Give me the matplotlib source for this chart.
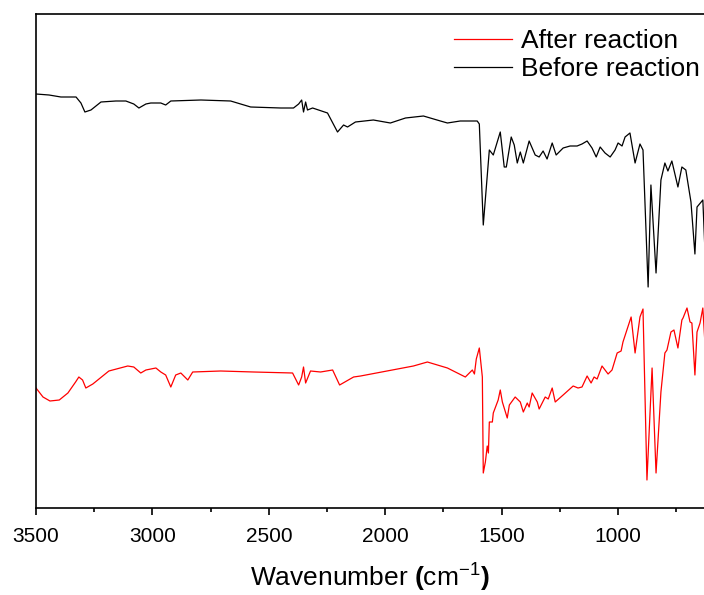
import matplotlib
matplotlib.use("Agg")
import matplotlib.pyplot as plt
from matplotlib.ticker import MultipleLocator

plt.rcParams["font.family"] = ["Liberation Sans", "DejaVu Sans"]
plt.rcParams["mathtext.fontset"] = "custom"
plt.rcParams["mathtext.rm"] = "Liberation Sans"
plt.rcParams["mathtext.bf"] = "Liberation Sans:bold"

# ─── data: FTIR spectra (wavenumber cm-1, transmittance a.u.) ──────────────
before_wn = [3500, 3444, 3393, 3328, 3307, 3290, 3264, 3221, 3157, 3114, 3080, 3058,
             3028, 3007, 2964, 2943, 2921, 2792, 2664, 2578, 2449, 2394, 2372, 2359,
             2351, 2342, 2334, 2312, 2248, 2205, 2179, 2162, 2128, 2051, 1978, 1913,
             1836, 1763, 1733, 1678, 1605, 1596, 1579, 1553, 1536, 1506, 1489, 1480,
             1459, 1446, 1433, 1420, 1407, 1382, 1356, 1339, 1322, 1305, 1283, 1266,
             1236, 1206, 1176, 1155, 1133, 1112, 1094, 1077, 1056, 1034, 1013, 1000,
             983, 970, 949, 927, 906, 893, 871, 859, 837, 816, 799, 786, 769, 743,
             726, 709, 687, 670, 661, 636, 627]
before_t = [414, 413, 411, 411, 405, 396, 398, 406, 407, 407, 404, 400,
            404, 405, 405, 403, 407, 408, 407, 401, 400, 400, 404, 408,
            396, 406, 398, 400, 395, 376, 383, 381, 386, 388, 385, 390,
            392, 387, 385, 387, 387, 384, 283, 358, 353, 376, 341, 341,
            371, 363, 345, 356, 345, 367, 353, 351, 357, 349, 365, 353,
            360, 362, 362, 364, 367, 360, 351, 361, 355, 351, 358, 365,
            362, 371, 375, 345, 364, 358, 221, 323, 235, 328, 345, 337, 347, 321,
            341, 338, 306, 254, 301, 308, 258]

after_wn = [3500, 3470, 3440, 3400, 3363, 3330, 3316, 3300, 3286, 3256, 3187, 3106,
            3080, 3050, 3028, 2985,
            2964, 2943, 2921, 2900, 2878, 2848, 2827, 2707, 2565, 2398, 2372, 2359,
            2351, 2342, 2321, 2278, 2226, 2196, 2136, 2106, 1879, 1819, 1733, 1656,
            1626, 1617, 1609, 1596, 1583, 1579, 1570, 1562, 1557, 1553, 1540, 1536,
            1515, 1506, 1497, 1476, 1467, 1442, 1420, 1407, 1390, 1382, 1369, 1347,
            1339, 1313, 1300, 1283, 1270, 1236, 1193, 1172, 1155, 1133, 1116, 1103,
            1090, 1069, 1043, 1026, 1004, 987, 979, 944, 927, 906, 893, 876, 854,
            837, 816, 799, 790, 773, 760, 743, 726, 721, 704, 691, 683, 670, 661,
            648, 636, 627]
after_t = [120, 111, 107, 108, 115, 126, 131, 128, 120, 124, 137, 142,
           141, 135, 138, 140,
           136, 133, 121, 133, 135, 128, 136, 137, 136, 135, 123, 131,
           141, 125, 137, 136, 138, 123, 131, 132, 142, 146, 140, 131,
           138, 134, 149, 160, 131, 35, 46, 62, 55, 86, 86, 95,
           108, 118, 106, 90, 103, 111, 106, 96, 105, 101, 115, 106,
           99, 111, 109, 120, 106, 113, 122, 120, 121, 132, 125, 131,
           129, 142, 134, 138, 155, 157, 166, 191, 155, 191, 199, 28, 140,
           35, 116, 155, 158, 176, 178, 160, 188, 190, 200, 186, 185, 133, 176,
           185, 200, 165]

fig = plt.figure(figsize=(7.04, 5.95), dpi=100)
ax = fig.add_axes([36 / 704, 1 - 508 / 595, 1 - 36 / 704, (508 - 14) / 595])

ax.plot(after_wn, after_t, color="#ff0000", lw=0.9, label="After reaction")
ax.plot(before_wn, before_t, color="#000000", lw=0.9, label="Before reaction")

ax.set_xlim(3500, 631)
ax.set_ylim(0, 494)
ax.xaxis.set_major_locator(MultipleLocator(500))
ax.xaxis.set_minor_locator(MultipleLocator(250))
ax.set_yticks([])
ax.spines["right"].set_visible(False)
for s in ("left", "top", "bottom"):
    ax.spines[s].set_linewidth(1.2)
ax.tick_params(axis="x", which="major", direction="out", length=5, width=1.2,
               labelsize=15, pad=9)
ax.tick_params(axis="x", which="minor", direction="out", length=3, width=1.2)

ax.set_xlabel(r"Wavenumber $\mathbf{(}$cm$^{-1}$$\mathbf{)}$", fontsize=19, labelpad=10)

ax.legend(loc="upper left", bbox_to_anchor=(454 / 704, 1 - 29 / 595),
          bbox_transform=fig.transFigure, frameon=False, fontsize=19,
          handlelength=2.2, handletextpad=0.35, labelspacing=0.15,
          borderpad=0, borderaxespad=0)

fig.savefig("out.png", dpi=100)
